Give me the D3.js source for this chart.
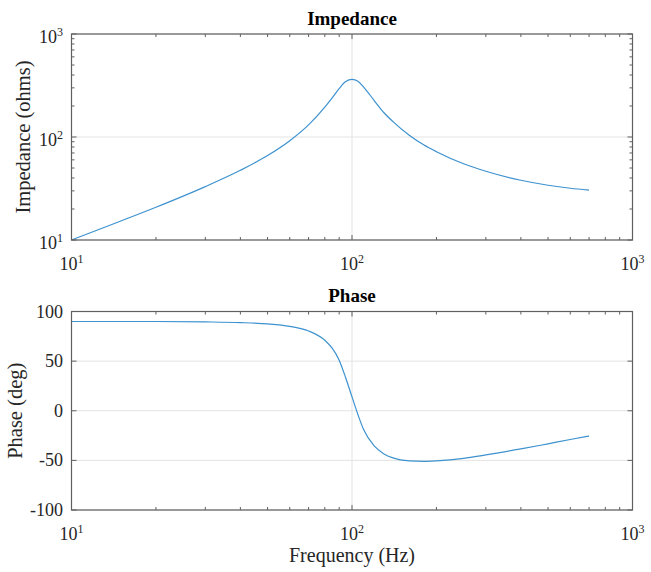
<!DOCTYPE html>
<html>
<head>
<meta charset="utf-8">
<script src="https://cdn.jsdelivr.net/npm/d3@7"></script>
<style>
body { margin: 0; background: #fff; }
text { font-family: "Liberation Serif", "Times New Roman", serif; fill: #262626; }
</style>
</head>
<body>
<div id="vis"></div>
<script>
// values
var freqZ = [10, 15, 20, 30, 40, 50, 60, 70, 80, 85, 90, 95, 100, 105, 110, 120, 130, 140, 160, 180, 200, 250, 300, 400, 500, 600, 700];
var impedance = [10, 15.3, 20.8, 33, 47.5, 66, 92, 131, 195, 240, 295, 345, 362, 348, 305, 226, 172, 141, 104, 84, 72, 55, 46.5, 38, 34, 31.8, 30.5];

var freqP = [10, 20, 30, 40, 50, 60, 70, 80, 85, 90, 95, 100, 105, 110, 120, 130, 140, 160, 180, 200, 250, 300, 400, 500, 600, 700];
var phase = [89.9, 89.9, 89.5, 88.8, 87.5, 85, 80.4, 71, 63, 51, 33, 14, -4, -19, -35.5, -43.5, -47.5, -50.5, -51, -50.5, -48, -44.5, -38.5, -33.3, -29, -25.5];

var freqTicks = [10, 100, 1000];
var impTicks = [10, 100, 1000];
var phaseTicks = [-100, -50, 0, 50, 100];

var W = 651, H = 572;
var left = 71.5, right = 632.5;
var lineColor = "#3d92cf";
var axisColor = "#606060";
var gridColor = "#e3e3e3";

var svg = d3.select("#vis").append("svg").attr("width", W).attr("height", H);

function powLabel(sel, exp, anchor) {
  sel.attr("text-anchor", anchor);
  sel.append("tspan").text("10");
  sel.append("tspan").attr("dy", -7).attr("font-size", 12).text(exp);
}

function drawPanel(p) {
  var g = svg.append("g");
  var x = d3.scaleLog().domain([10, 1000]).range([left, right]);
  var y = p.log ? d3.scaleLog().domain([10, 1000]).range([p.bottom, p.top])
                : d3.scaleLinear().domain([-100, 100]).range([p.bottom, p.top]);

  // grid
  g.selectAll(".gx").data(freqTicks).join("line")
    .attr("x1", d => x(d)).attr("x2", d => x(d))
    .attr("y1", p.top).attr("y2", p.bottom)
    .attr("stroke", gridColor).attr("stroke-width", 1);
  g.selectAll(".gy").data(p.yTicks).join("line")
    .attr("x1", left).attr("x2", right)
    .attr("y1", d => y(d)).attr("y2", d => y(d))
    .attr("stroke", gridColor).attr("stroke-width", 1);

  // curve
  g.append("path")
    .datum(d3.zip(p.fx, p.vals))
    .attr("fill", "none")
    .attr("stroke", lineColor)
    .attr("stroke-width", 1.2)
    .attr("d", d3.line().curve(d3.curveMonotoneX)
      .x(d => x(d[0]))
      .y(d => y(d[1])));

  // box
  g.append("rect")
    .attr("x", left).attr("y", p.top)
    .attr("width", right - left).attr("height", p.bottom - p.top)
    .attr("fill", "none").attr("stroke", axisColor).attr("stroke-width", 1.2);

  // x ticks (inside, top and bottom)
  x.ticks().forEach(d => {
    var len = freqTicks.indexOf(d) >= 0 ? 5 : 3;
    g.append("line").attr("x1", x(d)).attr("x2", x(d))
      .attr("y1", p.bottom).attr("y2", p.bottom - len)
      .attr("stroke", axisColor);
    g.append("line").attr("x1", x(d)).attr("x2", x(d))
      .attr("y1", p.top).attr("y2", p.top + len)
      .attr("stroke", axisColor);
  });

  // y ticks (inside, left and right)
  var yt = p.log ? y.ticks() : p.yTicks;
  yt.forEach(d => {
    var len = p.yTicks.indexOf(d) >= 0 ? 5 : 3;
    g.append("line").attr("x1", left).attr("x2", left + len)
      .attr("y1", y(d)).attr("y2", y(d)).attr("stroke", axisColor);
    g.append("line").attr("x1", right).attr("x2", right - len)
      .attr("y1", y(d)).attr("y2", y(d)).attr("stroke", axisColor);
  });

  // tick labels
  freqTicks.forEach(d => {
    g.append("text").attr("x", x(d)).attr("y", p.bottom + 30)
      .attr("font-size", 18)
      .call(powLabel, Math.round(Math.log10(d)), "middle");
  });
  p.yTicks.forEach(d => {
    var t = g.append("text").attr("x", 63).attr("font-size", 18);
    if (p.log) {
      t.attr("y", y(d) + 9).call(powLabel, Math.round(Math.log10(d)), "end");
    } else {
      t.attr("y", y(d) + 6).attr("text-anchor", "end").text(d);
    }
  });

  // title and y label
  g.append("text").attr("x", (left + right) / 2).attr("y", p.top - 9.5)
    .attr("text-anchor", "middle").attr("font-size", 19)
    .attr("font-weight", "bold").style("fill", "#000").text(p.title);
  g.append("text")
    .attr("transform", "translate(" + p.labelX + "," + ((p.top + p.bottom) / 2) + ") rotate(-90)")
    .attr("text-anchor", "middle").attr("font-size", 20.5).text(p.ylabel);
}

drawPanel({top: 34, bottom: 240, log: true, yTicks: impTicks,
  fx: freqZ, vals: impedance, title: "Impedance", ylabel: "Impedance (ohms)", labelX: 30});

drawPanel({top: 311.5, bottom: 510, log: false, yTicks: phaseTicks,
  fx: freqP, vals: phase, title: "Phase", ylabel: "Phase (deg)", labelX: 22});

svg.append("text").attr("x", (left + right) / 2).attr("y", 562)
  .attr("text-anchor", "middle").attr("font-size", 20).text("Frequency (Hz)");
</script>
</body>
</html>
